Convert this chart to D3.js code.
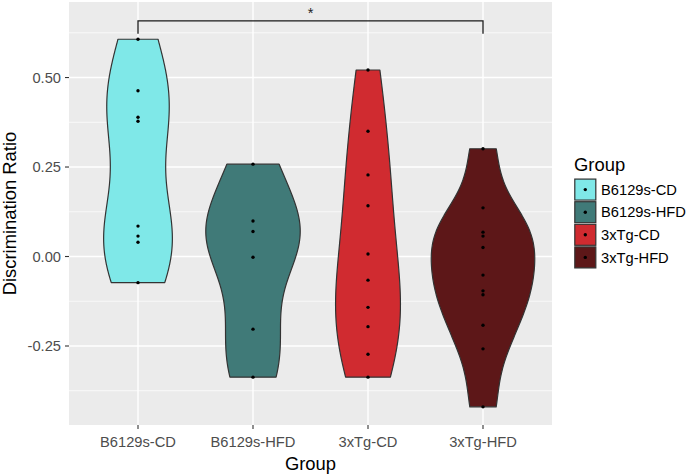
<!DOCTYPE html>
<html>
<head>
<meta charset="utf-8">
<script src="https://cdn.jsdelivr.net/npm/d3@7"></script>
<style>
  html, body { margin: 0; padding: 0; background: #ffffff; }
  svg { display: block; font-family: "Liberation Sans", Arial, Helvetica, sans-serif; }
</style>
</head>
<body>
<svg id="chart" width="689" height="475"></svg>
<script>
// ---- data ----
const categories = ["B6129s-CD", "B6129s-HFD", "3xTg-CD", "3xTg-HFD"];
const colors = ["#7FE8E8", "#407A78", "#D02B30", "#5D1718"];
const valuesB6129sCD = [0.607, 0.463, 0.389, 0.378, 0.085, 0.057, 0.040, -0.073];
const valuesB6129sHFD = [0.258, 0.099, 0.070, -0.002, -0.203, -0.337];
const values3xTgCD = [0.521, 0.350, 0.228, 0.142, 0.007, -0.066, -0.142, -0.196, -0.273, -0.337];
const values3xTgHFD = [0.301, 0.136, 0.068, 0.057, 0.025, -0.052, -0.096, -0.107, -0.192, -0.258, -0.420];
const seriesValues = [valuesB6129sCD, valuesB6129sHFD, values3xTgCD, values3xTgHFD];
const yTicks = [-0.25, 0.00, 0.25, 0.50];
const yTickLabels = ["-0.25", "0.00", "0.25", "0.50"];
const yMinor = [-0.375, -0.125, 0.125, 0.375, 0.625];
const yDomain = [-0.4707, 0.711];
const signif = { from: "B6129s-CD", to: "3xTg-HFD", y: 0.658, label: "*" };
const xTitle = "Group";
const yTitle = "Discrimination Ratio";
const legendTitle = "Group";

// ---- layout ----
const panel = { left: 69, right: 552, top: 2, bottom: 425 };
const svg = d3.select("#chart");

const x = d3.scalePoint().domain(categories).range([panel.left, panel.right]).padding(0.6);
const y = d3.scaleLinear().domain(yDomain).range([panel.bottom, panel.top]);
const halfW = x.step() * 0.45;

// panel background
svg.append("rect")
  .attr("x", panel.left).attr("y", panel.top)
  .attr("width", panel.right - panel.left).attr("height", panel.bottom - panel.top)
  .attr("fill", "#EBEBEB");

// grid
const grid = svg.append("g");
grid.selectAll("line.minor").data(yMinor).enter().append("line")
  .attr("x1", panel.left).attr("x2", panel.right)
  .attr("y1", d => y(d)).attr("y2", d => y(d))
  .attr("stroke", "#ffffff").attr("stroke-width", 0.7);
grid.selectAll("line.majory").data(yTicks).enter().append("line")
  .attr("x1", panel.left).attr("x2", panel.right)
  .attr("y1", d => y(d)).attr("y2", d => y(d))
  .attr("stroke", "#ffffff").attr("stroke-width", 1.4);
grid.selectAll("line.majorx").data(categories).enter().append("line")
  .attr("y1", panel.top).attr("y2", panel.bottom)
  .attr("x1", d => x(d)).attr("x2", d => x(d))
  .attr("stroke", "#ffffff").attr("stroke-width", 1.4);

// ---- KDE (gaussian, bw.nrd0, trimmed to data range) ----
function bwNrd0(arr) {
  const s = arr.slice().sort(d3.ascending);
  const sd = d3.deviation(s);
  const iqr = d3.quantileSorted(s, 0.75) - d3.quantileSorted(s, 0.25);
  let lo = Math.min(sd, iqr / 1.34);
  if (!(lo > 0)) lo = sd || Math.abs(s[0]) || 1;
  return 0.9 * lo * Math.pow(s.length, -0.2);
}
function kde(arr) {
  const bw = bwNrd0(arr);
  const [mn, mx] = d3.extent(arr);
  const n = 512;
  const out = [];
  for (let i = 0; i < n; i++) {
    const v = mn + (mx - mn) * i / (n - 1);
    let s = 0;
    for (const xi of arr) {
      const z = (v - xi) / bw;
      s += Math.exp(-0.5 * z * z);
    }
    out.push({ v: v, d: s / (arr.length * bw * Math.sqrt(2 * Math.PI)) });
  }
  return out;
}
const densities = seriesValues.map(kde);
const maxD = d3.max(densities, ds => d3.max(ds, p => p.d));

// violins
const violins = svg.append("g");
categories.forEach((cat, i) => {
  const cx = x(cat);
  const w = d3.scaleLinear().domain([0, maxD]).range([0, halfW]);
  const area = d3.area()
    .y(p => y(p.v))
    .x0(p => cx - w(p.d))
    .x1(p => cx + w(p.d))
    .curve(d3.curveLinear);
  violins.append("path")
    .datum(densities[i])
    .attr("d", area)
    .attr("fill", colors[i])
    .attr("stroke", "#333333")
    .attr("stroke-width", 1.2)
    .attr("stroke-linejoin", "round");
});

// points
categories.forEach((cat, i) => {
  svg.append("g").selectAll("circle").data(seriesValues[i]).enter().append("circle")
    .attr("cx", x(cat)).attr("cy", d => y(d)).attr("r", 1.7)
    .attr("fill", "#000000");
});

// significance bracket
const tip = (yDomain[1] - yDomain[0]) * 0.03;
const bx1 = x(signif.from), bx2 = x(signif.to);
svg.append("path")
  .attr("d", `M${bx1},${y(signif.y - tip)}L${bx1},${y(signif.y)}L${bx2},${y(signif.y)}L${bx2},${y(signif.y - tip)}`)
  .attr("fill", "none").attr("stroke", "#1a1a1a").attr("stroke-width", 1.3);
svg.append("text")
  .attr("x", (bx1 + bx2) / 2).attr("y", y(signif.y) - 3)
  .attr("text-anchor", "middle").attr("font-size", 14.7).attr("fill", "#222")
  .text(signif.label);

// axes ticks & labels
const axisG = svg.append("g");
axisG.selectAll("line.yt").data(yTicks).enter().append("line")
  .attr("x1", panel.left - 4).attr("x2", panel.left)
  .attr("y1", d => y(d)).attr("y2", d => y(d))
  .attr("stroke", "#333333").attr("stroke-width", 1.1);
axisG.selectAll("text.yl").data(yTicks).enter().append("text")
  .attr("x", panel.left - 8).attr("y", d => y(d)).attr("dy", "0.35em")
  .attr("text-anchor", "end").attr("font-size", 14.7).attr("fill", "#4D4D4D")
  .text((d, i) => yTickLabels[i]);
axisG.selectAll("line.xt").data(categories).enter().append("line")
  .attr("y1", panel.bottom).attr("y2", panel.bottom + 4)
  .attr("x1", d => x(d)).attr("x2", d => x(d))
  .attr("stroke", "#333333").attr("stroke-width", 1.1);
axisG.selectAll("text.xl").data(categories).enter().append("text")
  .attr("x", d => x(d)).attr("y", 447)
  .attr("text-anchor", "middle").attr("font-size", 14.7).attr("fill", "#4D4D4D")
  .text(d => d);

// axis titles
svg.append("text")
  .attr("x", (panel.left + panel.right) / 2).attr("y", 469.5)
  .attr("text-anchor", "middle").attr("font-size", 18.4).attr("fill", "#000")
  .text(xTitle);
svg.append("text")
  .attr("transform", `translate(15.5,${(panel.top + panel.bottom) / 2}) rotate(-90)`)
  .attr("text-anchor", "middle").attr("font-size", 18.4).attr("fill", "#000")
  .text(yTitle);

// legend
const lg = svg.append("g");
lg.append("text").attr("x", 574).attr("y", 171)
  .attr("font-size", 18.4).attr("fill", "#000").text(legendTitle);
const keyTop = 178.3, keyH = 22.6, keyW = 22.6;
categories.forEach((cat, i) => {
  const ky = keyTop + i * keyH;
  lg.append("rect").attr("x", 574).attr("y", ky).attr("width", keyW).attr("height", keyH)
    .attr("fill", "#F2F2F2");
  lg.append("rect").attr("x", 574.8).attr("y", ky + 0.8).attr("width", keyW - 1.6).attr("height", keyH - 1.6)
    .attr("fill", colors[i]).attr("stroke", "#333333").attr("stroke-width", 1.2);
  lg.append("circle").attr("cx", 574 + keyW / 2).attr("cy", ky + keyH / 2).attr("r", 1.7).attr("fill", "#000");
  lg.append("text").attr("x", 601).attr("y", ky + keyH / 2).attr("dy", "0.35em")
    .attr("font-size", 14.7).attr("fill", "#000").text(cat);
});
</script>
</body>
</html>
